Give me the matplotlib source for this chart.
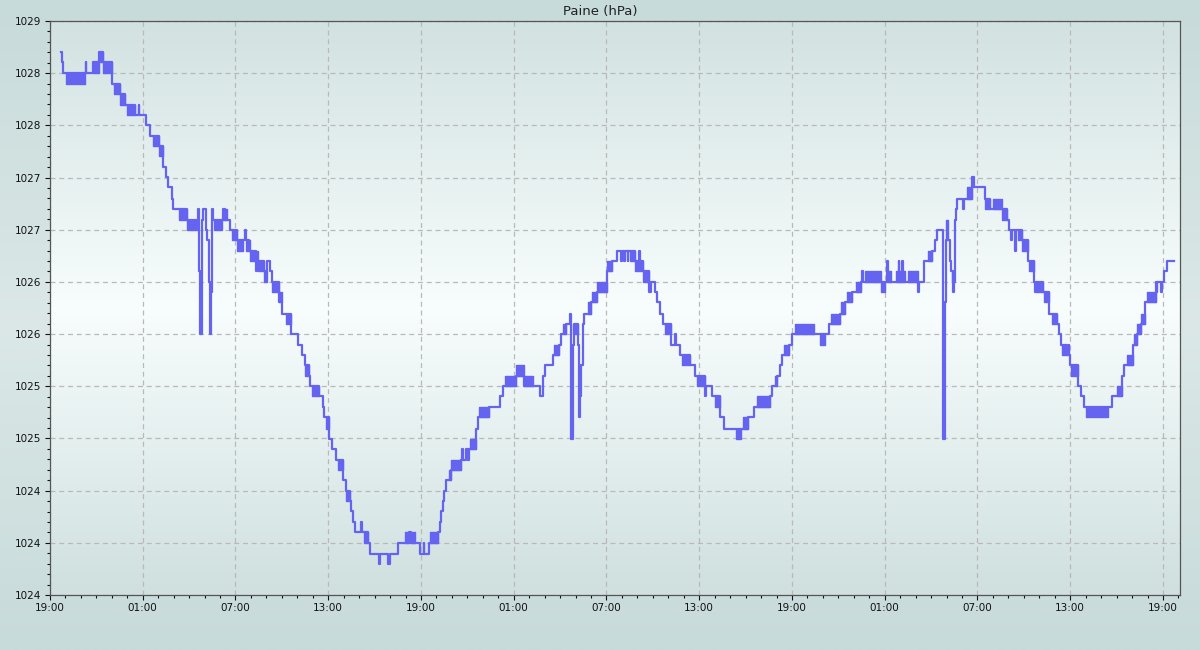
import numpy as np
import matplotlib
matplotlib.use('Agg')
import matplotlib.pyplot as plt
import matplotlib.dates as mdates
from matplotlib.colors import LinearSegmentedColormap
from matplotlib.ticker import FixedLocator, FuncFormatter, AutoMinorLocator
from datetime import datetime, timedelta

start = datetime(2024, 3, 4, 19, 0)

# readings: hours since start, pressure in hPa (step line)
hrs = [0.71, 0.78, 0.86, 2.30, 2.36, 2.80, 3.19, 3.45, 3.99, 4.53, 4.85, 5.50, 5.73, 5.78, 6.20, 6.47,
       7.07, 7.33, 7.48, 7.65, 7.87, 7.97, 8.84, 9.59, 9.64, 9.70, 9.85, 9.92, 10.07, 10.16, 10.28, 10.35,
       10.38, 10.41, 10.50, 10.56, 11.16, 11.30, 11.64, 12.07, 12.62, 12.67, 12.88, 13.30, 13.36, 13.85,
       14.06, 14.20, 14.39, 14.82, 14.99, 15.57, 16.06, 16.28, 16.49, 16.75, 16.85, 17.40, 17.66, 17.75,
       18.04, 18.22, 18.47, 18.95, 19.12, 19.40, 19.50, 19.59, 19.76, 20.15, 20.20, 20.58, 20.70, 21.27,
       21.32, 21.87, 22.02, 22.52, 23.20, 23.38, 23.96, 24.17, 24.22, 24.49, 25.10, 25.20, 25.31, 25.42,
       25.50, 25.59, 25.96, 26.60, 26.67, 26.72, 26.92, 27.03, 27.08, 27.57, 27.68, 28.43, 29.08, 29.29,
       30.15, 30.69, 31.70, 31.87, 32.04, 32.52, 32.90, 33.05, 33.38, 33.63, 33.70, 33.81, 33.88, 34.13,
       34.24, 34.30, 34.38, 34.45, 34.56, 34.99, 35.36, 36.01, 36.33, 36.66, 36.93, 36.98, 37.15, 37.20,
       37.37, 37.42, 37.85, 38.13, 38.18, 38.39, 38.72, 38.76, 38.85, 39.11, 39.26, 39.47, 39.65, 40.19,
       40.44, 40.48, 40.77, 41.42, 41.74, 42.39, 42.45, 42.82, 43.36, 43.58, 45.15, 45.52, 46.60, 46.71,
       47.03, 47.25, 47.36, 47.83, 48.00, 50.37, 51.08, 51.41, 51.90, 52.44, 52.55, 52.60, 54.17, 54.22,
       54.90, 54.95, 55.10, 55.15, 56.16, 56.22, 56.55, 57.07, 57.28, 57.37, 57.74, 57.78, 57.87, 57.92,
       57.96, 58.21, 58.28, 58.43, 58.48, 58.52, 58.56, 58.62, 58.68, 59.05, 59.12, 59.66, 59.76, 60.48,
       60.80, 61.93, 62.06, 62.17, 62.24, 62.42, 62.48, 62.85, 63.24, 63.67, 63.75, 63.80, 64.24, 64.61,
       65.16, 65.30, 65.38, 65.79, 65.90, 65.94, 65.96, 66.49, 66.71, 66.92, 68.68, 69.32, 69.49, 70.03,
       70.35, 70.60, 70.82, 71.52, 71.58, 71.63, 71.85, 71.92, 72.06, 72.23, 72.70]
hpa = [1028.73, 1028.64, 1028.55, 1028.64, 1028.55, 1028.64, 1028.73, 1028.64, 1028.45, 1028.36, 1028.27,
       1028.18, 1028.27, 1028.18, 1028.09, 1028.00, 1027.91, 1027.73, 1027.64, 1027.55, 1027.45, 1027.36,
       1027.27, 1027.36, 1026.82, 1026.27, 1027.27, 1027.36, 1027.18, 1027.09, 1026.73, 1026.45, 1026.27,
       1026.64, 1027.36, 1027.27, 1027.36, 1027.27, 1027.18, 1027.09, 1027.18, 1027.09, 1027.00, 1026.82,
       1026.91, 1026.82, 1026.91, 1026.82, 1026.73, 1026.55, 1026.45, 1026.27, 1026.18, 1026.09, 1026.00,
       1025.91, 1025.82, 1025.73, 1025.64, 1025.55, 1025.36, 1025.27, 1025.18, 1025.00, 1024.91, 1024.82,
       1024.73, 1024.64, 1024.55, 1024.64, 1024.55, 1024.45, 1024.36, 1024.27, 1024.36, 1024.27, 1024.36,
       1024.45, 1024.55, 1024.45, 1024.36, 1024.45, 1024.36, 1024.45, 1024.55, 1024.64, 1024.73, 1024.82,
       1024.91, 1025.00, 1025.09, 1025.18, 1025.27, 1025.18, 1025.27, 1025.18, 1025.27, 1025.45, 1025.55,
       1025.64, 1025.73, 1025.82, 1025.91, 1025.82, 1025.73, 1025.91, 1026.00, 1026.09, 1026.18, 1026.27,
       1026.36, 1026.45, 1025.36, 1026.18, 1026.36, 1026.18, 1025.55, 1025.73, 1026.00, 1026.36, 1026.45,
       1026.55, 1026.64, 1026.82, 1026.91, 1027.00, 1026.91, 1027.00, 1026.91, 1027.00, 1026.91, 1027.00,
       1026.91, 1027.00, 1026.91, 1026.82, 1026.73, 1026.64, 1026.73, 1026.64, 1026.55, 1026.45, 1026.36,
       1026.18, 1026.27, 1026.18, 1026.09, 1026.00, 1025.91, 1025.73, 1025.82, 1025.73, 1025.55, 1025.45,
       1025.55, 1025.64, 1025.73, 1025.82, 1025.91, 1026.00, 1026.09, 1026.18, 1026.27, 1026.36, 1026.45,
       1026.55, 1026.64, 1026.73, 1026.82, 1026.73, 1026.91, 1026.73, 1026.91, 1026.73, 1026.91, 1026.73,
       1026.64, 1026.73, 1026.91, 1027.00, 1027.09, 1027.18, 1026.55, 1025.36, 1026.36, 1026.55, 1027.09,
       1026.91, 1026.82, 1026.64, 1026.73, 1027.00, 1027.27, 1027.36, 1027.45, 1027.36, 1027.45, 1027.64,
       1027.55, 1027.45, 1027.36, 1027.27, 1027.18, 1027.09, 1027.18, 1027.00, 1027.18, 1027.09, 1026.91,
       1026.73, 1026.64, 1026.73, 1026.64, 1026.45, 1026.36, 1026.27, 1026.18, 1026.09, 1026.18, 1026.09,
       1026.00, 1025.82, 1025.73, 1025.64, 1025.73, 1025.91, 1026.00, 1026.18, 1026.27, 1026.36, 1026.55,
       1026.73, 1026.64, 1026.73, 1026.64, 1026.73, 1026.82, 1026.91, 1026.91]

# spans where the reading flickers quickly between two adjacent values
flk_start = [1.03, 1.51, 1.83, 2.09, 2.80, 3.19, 3.45, 4.14, 4.53, 5.00, 6.64, 7.07, 8.36, 8.84, 10.63,
             11.16, 11.75, 12.07, 12.67, 12.93, 13.48, 13.85, 14.39, 14.82, 15.25, 16.49, 16.97, 17.87,
             18.65, 19.12, 20.30, 22.99, 23.38, 24.56, 25.81, 25.96, 27.14, 27.78, 29.46, 30.15, 30.69,
             32.62, 33.18, 33.86, 34.78, 35.04, 35.36, 36.01, 37.55, 37.85, 38.39, 39.80, 40.88, 41.87,
             42.99, 44.38, 44.81, 45.74, 46.88, 47.46, 48.22, 49.84, 50.50, 51.19, 51.58, 52.16, 52.70,
             53.78, 54.17, 54.76, 55.51, 56.81, 57.96, 58.34, 59.29, 60.48, 61.02, 61.57, 62.60, 62.85,
             63.32, 63.80, 64.31, 64.82, 65.46, 66.02, 67.03, 69.02, 69.70, 70.13, 70.35, 70.60, 70.99]
flk_end = [1.40, 1.72, 1.98, 2.26, 3.19, 3.40, 3.99, 4.53, 4.85, 5.50, 7.07, 7.33, 8.84, 9.59, 11.10,
           11.42, 12.07, 12.50, 12.93, 13.48, 13.85, 14.06, 14.82, 14.99, 15.57, 16.75, 17.40, 18.04,
           18.95, 19.40, 20.58, 23.20, 23.63, 25.10, 25.96, 26.60, 27.57, 28.43, 30.15, 30.69, 31.23,
           32.90, 33.38, 34.13, 34.99, 35.36, 36.01, 36.33, 37.85, 38.39, 38.72, 40.19, 41.42, 42.39,
           43.36, 44.72, 45.15, 46.60, 47.03, 47.83, 49.41, 50.16, 51.08, 51.41, 51.90, 52.44, 53.78,
           54.00, 54.43, 55.30, 56.16, 57.07, 58.11, 58.43, 59.66, 60.80, 61.57, 61.93, 62.85, 63.24,
           63.67, 64.24, 64.61, 65.16, 65.79, 66.49, 68.42, 69.32, 70.03, 70.35, 70.60, 70.82, 71.52]
flk_lo = [1028.45, 1028.45, 1028.45, 1028.45, 1028.55, 1028.64, 1028.55, 1028.36, 1028.27, 1028.18,
          1027.91, 1027.82, 1027.27, 1027.18, 1027.18, 1027.27, 1027.09, 1027.00, 1027.00, 1026.91,
          1026.82, 1026.73, 1026.64, 1026.55, 1026.36, 1025.91, 1025.73, 1025.45, 1025.09, 1024.82,
          1024.45, 1024.45, 1024.45, 1024.45, 1025.00, 1025.09, 1025.27, 1025.55, 1025.82, 1025.91,
          1025.82, 1026.09, 1026.27, 1026.27, 1026.45, 1026.55, 1026.64, 1026.82, 1026.91, 1026.82,
          1026.73, 1026.27, 1026.00, 1025.82, 1025.64, 1025.36, 1025.45, 1025.64, 1025.82, 1026.09,
          1026.27, 1026.18, 1026.36, 1026.45, 1026.55, 1026.64, 1026.73, 1026.64, 1026.73, 1026.73,
          1026.73, 1026.91, 1027.09, 1026.73, 1027.45, 1027.36, 1027.36, 1027.27, 1027.09, 1027.00,
          1026.82, 1026.64, 1026.55, 1026.36, 1026.09, 1025.91, 1025.55, 1025.73, 1026.00, 1026.18,
          1026.27, 1026.36, 1026.55]
flk_hi = [1028.55, 1028.55, 1028.55, 1028.55, 1028.64, 1028.73, 1028.64, 1028.45, 1028.36, 1028.27,
          1028.00, 1027.91, 1027.36, 1027.27, 1027.27, 1027.36, 1027.18, 1027.09, 1027.09, 1027.00,
          1026.91, 1026.82, 1026.73, 1026.64, 1026.45, 1026.00, 1025.82, 1025.55, 1025.18, 1024.91,
          1024.55, 1024.55, 1024.55, 1024.55, 1025.09, 1025.18, 1025.36, 1025.64, 1025.91, 1026.00,
          1025.91, 1026.18, 1026.36, 1026.36, 1026.55, 1026.64, 1026.73, 1026.91, 1027.00, 1026.91,
          1026.82, 1026.36, 1026.09, 1025.91, 1025.73, 1025.45, 1025.55, 1025.73, 1025.91, 1026.18,
          1026.36, 1026.27, 1026.45, 1026.55, 1026.64, 1026.73, 1026.82, 1026.73, 1026.82, 1026.82,
          1026.82, 1027.00, 1027.27, 1026.82, 1027.55, 1027.45, 1027.45, 1027.36, 1027.18, 1027.09,
          1026.91, 1026.73, 1026.64, 1026.45, 1026.18, 1026.00, 1025.64, 1025.82, 1026.09, 1026.27,
          1026.36, 1026.45, 1026.64]

y_min, y_max = 1024, 1029
x_span_h = 73.1
line_col = '#6464f0'

times = [start + timedelta(hours=h) for h in hrs]

fig = plt.figure(figsize=(12, 6.5), dpi=100)
pos = [50/1200, 1 - 595/650, 1130/1200, 574/650]

# figure background gradient
bg = fig.add_axes([0, 0, 1, 1], zorder=-10)
fig_cmap = LinearSegmentedColormap.from_list('figbg', ['#c7dbda', '#dbe8e7', '#c7dbda'])
bg.imshow(np.linspace(0, 1, 256).reshape(-1, 1), aspect='auto', cmap=fig_cmap, extent=[0, 1, 0, 1])
bg.axis('off')

# plot area gradient
pbg = fig.add_axes(pos, zorder=-5)
plot_cmap = LinearSegmentedColormap.from_list('plotbg', [(0, '#d2e2e1'), (0.5, '#f8fdfd'), (1, '#cfe0df')])
pbg.imshow(np.linspace(0, 1, 256).reshape(-1, 1), aspect='auto', cmap=plot_cmap, extent=[0, 1, 0, 1])
pbg.axis('off')

ax = fig.add_axes(pos)
ax.set_facecolor('none')

for t0, t1, lo, hi in zip(flk_start, flk_end, flk_lo, flk_hi):
    tt = [start + timedelta(hours=t0), start + timedelta(hours=t1)]
    ax.fill_between(tt, [lo, lo], [hi, hi], color=line_col, lw=1.0, zorder=3)

ax.plot(times, hpa, drawstyle='steps-post', color=line_col, lw=1.6, zorder=4)

ax.set_xlim(start, start + timedelta(hours=x_span_h))
ax.set_ylim(y_min, y_max)

ax.xaxis.set_major_locator(mdates.HourLocator(byhour=[1, 7, 13, 19]))
ax.xaxis.set_major_formatter(mdates.DateFormatter('%H:%M'))
ax.xaxis.set_minor_locator(mdates.HourLocator())
ax.yaxis.set_major_locator(FixedLocator(np.linspace(y_min, y_max, 12)))
ax.yaxis.set_major_formatter(FuncFormatter(lambda v, p: str(int(v + 1e-6))))
ax.yaxis.set_minor_locator(AutoMinorLocator(5))

ax.tick_params(which='major', length=3.6, width=0.8, direction='out', labelsize=7.5, colors='#111111', pad=2.5)
ax.tick_params(which='minor', length=2.0, width=0.8, direction='out', colors='#111111')
ax.grid(True, which='major', linestyle=(0, (4, 3)), color='#b9b9b9', lw=0.9)
ax.set_axisbelow(True)
for s in ax.spines.values():
    s.set_color('#555555')
    s.set_linewidth(0.9)

fig.text(0.5, 1 - 11/650, 'Paine (hPa)', ha='center', va='center', fontsize=9.5, color='#222222')

fig.savefig('out.png', dpi=100)
